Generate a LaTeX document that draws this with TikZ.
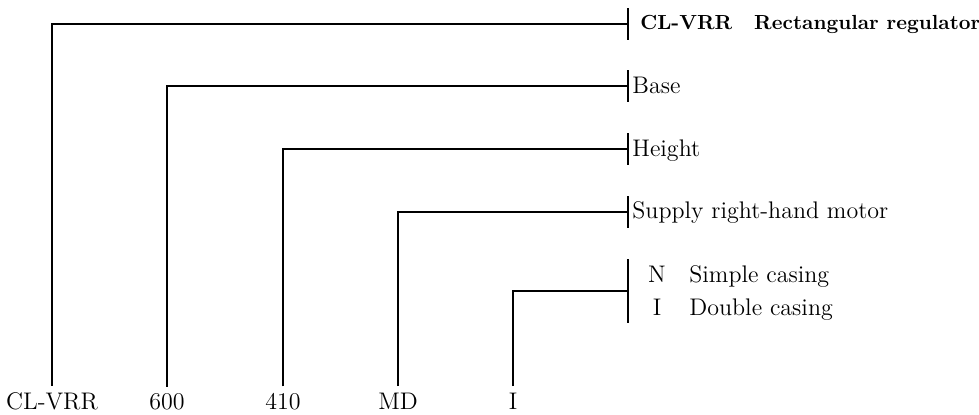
\documentclass[tikz,border=0pt]{standalone}
\usepackage{tikz}

\tikzset{
  code/.style={anchor=base, inner sep=3pt, font=\fontsize{12}{14}\selectfont},
  meaning/.style={anchor=base west, inner sep=0pt, font=\fontsize{12}{14}\selectfont},
  leader/.style={line width=1pt}
}

\begin{document}
\begin{tikzpicture}[x=0.5pt,y=-0.5pt]
            \useasboundingbox (0,0) rectangle (979,414);
            \node[code] (kcl) at (52,409) {CL-VRR};
            \node[code] (kbase) at (167,409) {600};
            \node[code] (kheight) at (283,409) {410};
            \node[code] (kmotor) at (398,409) {MD};
            \node[code] (kcasing) at (513,409) {I};
            \coordinate (jcl) at (628,24);
            \coordinate (jbase) at (628,86);
            \coordinate (jheight) at (628,149);
            \coordinate (jmotor) at (628,212);
            \coordinate (jcasing) at (628,291);
            \node[meaning, font=\fontsize{10.2}{12}\selectfont\bfseries] (lcl) at (640,29) {CL-VRR\hspace{11pt}Rectangular regulator};
            \node[meaning] (lbase) at (632,93) {Base};
            \node[meaning] (lheight) at (632,156) {Height};
            \node[meaning] (lmotor) at (632,218) {Supply right-hand motor};
            \node[code, inner sep=0pt] (lN) at (657,282) {N};
            \node[meaning] (lsimple) at (689,282) {Simple casing};
            \node[code, inner sep=0pt] (lI) at (657,315) {I};
            \node[meaning] (ldouble) at (689,315) {Double casing};
            \draw[leader] (kcl.north) |- (jcl);
            \draw[leader] ([yshift=8pt]jcl) -- ([yshift=-8pt]jcl);
            \draw[leader] (kbase.north) |- (jbase);
            \draw[leader] ([yshift=8pt]jbase) -- ([yshift=-8pt]jbase);
            \draw[leader] (kheight.north) |- (jheight);
            \draw[leader] ([yshift=8pt]jheight) -- ([yshift=-8pt]jheight);
            \draw[leader] (kmotor.north) |- (jmotor);
            \draw[leader] ([yshift=8pt]jmotor) -- ([yshift=-8pt]jmotor);
            \draw[leader] (kcasing.north) |- (jcasing);
            \draw[leader] ([yshift=16pt]jcasing) -- ([yshift=-16pt]jcasing);
        \end{tikzpicture}
\end{document}
